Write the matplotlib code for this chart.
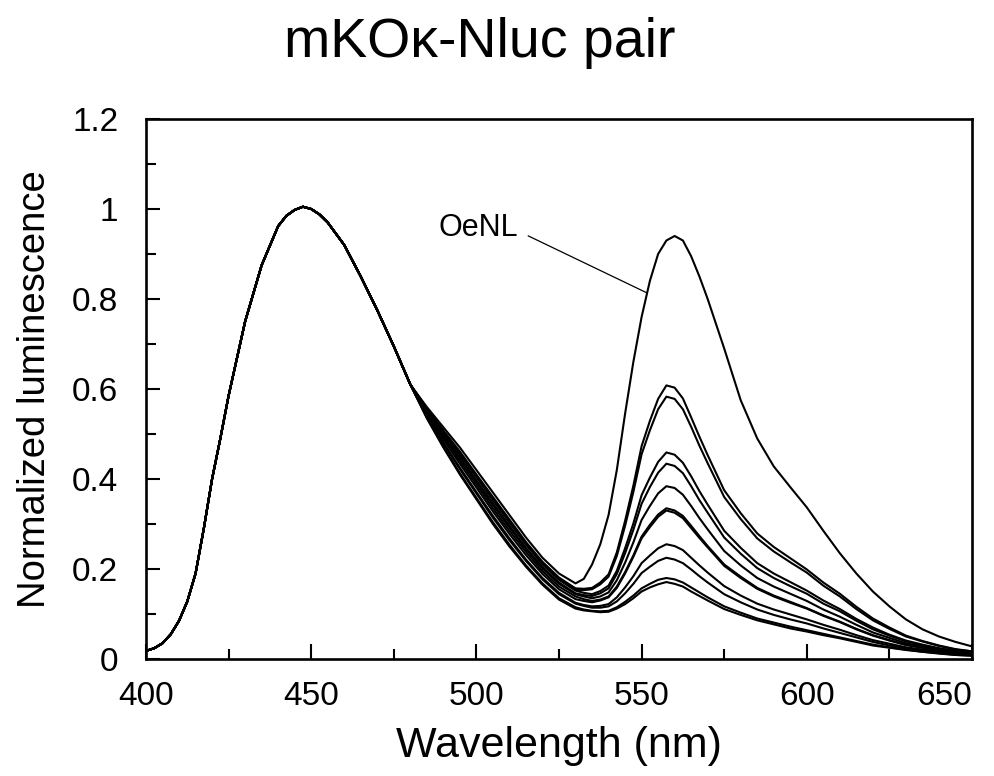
import numpy as np
import matplotlib
matplotlib.use("Agg")
import matplotlib.pyplot as plt
from matplotlib.ticker import MultipleLocator

plt.rcParams['font.family'] = ['Liberation Sans', 'DejaVu Sans']

# ---------------- data ----------------
# shared blue (Nluc) part of all spectra, 400-480 nm
wl_blue = [400, 402.5, 405, 407.5, 410, 412.5, 415, 417.5, 420, 422.5, 425,
           430, 435, 440, 442.5, 445, 447.5, 450, 452.5, 455, 460, 465, 470,
           475, 480]
donor_blue = [0.018, 0.024, 0.035, 0.055, 0.085, 0.128, 0.190, 0.290, 0.400,
              0.490, 0.585, 0.750, 0.875, 0.962, 0.985, 0.998, 1.005, 1.000,
              0.988, 0.970, 0.920, 0.850, 0.775, 0.695, 0.610]

# 485-650 nm part of each spectrum
wl_red = [485, 490, 495, 500, 505, 510, 515, 520, 525, 530, 532.5, 535, 537.5,
          540, 542.5, 545, 547.5, 550, 552.5, 555, 557.5, 560, 562.5, 565,
          567.5, 570, 575, 580, 585, 590, 595, 600, 605, 610, 615, 620, 625,
          630, 635, 640, 645, 650]

oenl = [0.560, 0.515, 0.470, 0.420, 0.370, 0.320, 0.270, 0.225, 0.190, 0.168,
        0.178, 0.210, 0.255, 0.320, 0.420, 0.545, 0.660, 0.760, 0.840, 0.900,
        0.930, 0.940, 0.930, 0.895, 0.850, 0.800, 0.690, 0.575, 0.490, 0.428,
        0.382, 0.337, 0.285, 0.235, 0.190, 0.150, 0.117, 0.088, 0.066, 0.050,
        0.038, 0.028]
pair_061 = [0.556, 0.508, 0.461, 0.410, 0.360, 0.310, 0.260, 0.216, 0.181, 0.157,
            0.156, 0.158, 0.170, 0.188, 0.237, 0.307, 0.385, 0.473, 0.529, 0.578,
            0.608, 0.603, 0.579, 0.537, 0.494, 0.453, 0.375, 0.324, 0.279, 0.249,
            0.224, 0.199, 0.170, 0.145, 0.116, 0.090, 0.070, 0.052, 0.040, 0.030,
            0.022, 0.017]
pair_058 = [0.555, 0.506, 0.458, 0.407, 0.356, 0.306, 0.257, 0.213, 0.178, 0.154,
            0.153, 0.155, 0.166, 0.183, 0.229, 0.296, 0.371, 0.455, 0.508, 0.555,
            0.583, 0.578, 0.555, 0.516, 0.474, 0.435, 0.360, 0.311, 0.268, 0.239,
            0.215, 0.192, 0.163, 0.139, 0.111, 0.086, 0.067, 0.050, 0.039, 0.029,
            0.021, 0.017]
pair_046 = [0.554, 0.504, 0.455, 0.404, 0.353, 0.303, 0.254, 0.210, 0.176, 0.152,
            0.147, 0.144, 0.151, 0.163, 0.196, 0.246, 0.301, 0.364, 0.403, 0.438,
            0.459, 0.454, 0.436, 0.406, 0.373, 0.343, 0.285, 0.247, 0.213, 0.190,
            0.171, 0.152, 0.130, 0.111, 0.089, 0.070, 0.054, 0.041, 0.032, 0.024,
            0.018, 0.014]
pair_043 = [0.551, 0.499, 0.449, 0.397, 0.346, 0.296, 0.247, 0.204, 0.170, 0.146,
            0.142, 0.140, 0.146, 0.157, 0.189, 0.235, 0.287, 0.345, 0.382, 0.414,
            0.434, 0.429, 0.413, 0.384, 0.353, 0.325, 0.270, 0.234, 0.202, 0.180,
            0.162, 0.145, 0.123, 0.106, 0.085, 0.066, 0.052, 0.039, 0.030, 0.023,
            0.017, 0.013]
pair_038 = [0.550, 0.497, 0.446, 0.394, 0.342, 0.292, 0.244, 0.201, 0.167, 0.144,
            0.139, 0.135, 0.139, 0.148, 0.175, 0.214, 0.259, 0.309, 0.340, 0.368,
            0.384, 0.380, 0.365, 0.340, 0.313, 0.288, 0.240, 0.208, 0.180, 0.161,
            0.145, 0.129, 0.110, 0.094, 0.076, 0.059, 0.047, 0.035, 0.028, 0.021,
            0.015, 0.012]
pair_034a = [0.548, 0.493, 0.440, 0.388, 0.335, 0.285, 0.238, 0.195, 0.161, 0.139,
             0.133, 0.129, 0.132, 0.139, 0.161, 0.193, 0.230, 0.272, 0.298, 0.321,
             0.335, 0.330, 0.318, 0.296, 0.273, 0.251, 0.210, 0.183, 0.158, 0.141,
             0.127, 0.113, 0.097, 0.083, 0.067, 0.053, 0.042, 0.032, 0.025, 0.019,
             0.014, 0.011]
pair_034b = [0.545, 0.488, 0.434, 0.381, 0.328, 0.278, 0.231, 0.189, 0.155, 0.133,
             0.129, 0.126, 0.130, 0.137, 0.158, 0.190, 0.227, 0.268, 0.293, 0.316,
             0.330, 0.325, 0.313, 0.291, 0.269, 0.248, 0.207, 0.180, 0.156, 0.139,
             0.125, 0.112, 0.096, 0.082, 0.066, 0.052, 0.041, 0.031, 0.025, 0.019,
             0.014, 0.011]
pair_026 = [0.541, 0.481, 0.425, 0.371, 0.318, 0.268, 0.221, 0.180, 0.147, 0.125,
            0.120, 0.117, 0.118, 0.122, 0.137, 0.159, 0.184, 0.213, 0.230, 0.246,
            0.255, 0.251, 0.242, 0.225, 0.208, 0.192, 0.162, 0.141, 0.123, 0.110,
            0.099, 0.088, 0.076, 0.065, 0.053, 0.042, 0.034, 0.026, 0.021, 0.016,
            0.012, 0.009]
pair_022 = [0.540, 0.479, 0.422, 0.368, 0.314, 0.264, 0.218, 0.177, 0.144, 0.123,
            0.118, 0.114, 0.114, 0.117, 0.128, 0.146, 0.167, 0.191, 0.205, 0.218,
            0.225, 0.221, 0.213, 0.199, 0.184, 0.170, 0.144, 0.126, 0.110, 0.098,
            0.088, 0.079, 0.068, 0.058, 0.048, 0.038, 0.030, 0.024, 0.019, 0.014,
            0.011, 0.009]
pair_018 = [0.536, 0.472, 0.413, 0.358, 0.304, 0.254, 0.208, 0.168, 0.135, 0.115,
            0.110, 0.107, 0.106, 0.107, 0.115, 0.127, 0.141, 0.157, 0.167, 0.176,
            0.180, 0.177, 0.170, 0.159, 0.148, 0.137, 0.117, 0.103, 0.090, 0.081,
            0.072, 0.064, 0.056, 0.048, 0.040, 0.032, 0.026, 0.021, 0.016, 0.013,
            0.009, 0.008]
pair_017 = [0.535, 0.470, 0.410, 0.355, 0.300, 0.250, 0.205, 0.165, 0.132, 0.112,
            0.108, 0.106, 0.104, 0.105, 0.112, 0.122, 0.135, 0.150, 0.159, 0.166,
            0.171, 0.167, 0.161, 0.150, 0.140, 0.130, 0.111, 0.098, 0.086, 0.077,
            0.068, 0.061, 0.053, 0.046, 0.038, 0.030, 0.025, 0.020, 0.016, 0.012,
            0.009, 0.007]

spectra = [oenl, pair_061, pair_058, pair_046, pair_043, pair_038, pair_034a,
           pair_034b, pair_026, pair_022, pair_018, pair_017]

x_ticks = [400, 450, 500, 550, 600, 650]
x_tick_labels = ["400", "450", "500", "550", "600", "650"]
y_ticks = [0, 0.2, 0.4, 0.6, 0.8, 1.0, 1.2]
y_tick_labels = ["0", "0.2", "0.4", "0.6", "0.8", "1", "1.2"]

title = "mKO\u03ba-Nluc pair"
xlabel = "Wavelength (nm)"
ylabel = "Normalized luminescence"
label_text = "OeNL"
label_point = (551.5, 0.814)
label_pos = (500.5, 0.958)

# ---------------- plot ----------------
fig = plt.figure(figsize=(9.94, 7.76), dpi=100)
ax = fig.add_axes([146 / 994, 1 - 659 / 776, (972 - 146) / 994, (659 - 119) / 776])

wl = np.concatenate([wl_blue, wl_red])
for s in spectra:
    ax.plot(wl, np.concatenate([donor_blue, s]), color='black', lw=1.5,
            solid_joinstyle='round', solid_capstyle='round')

ax.set_xlim(400, 650)
ax.set_ylim(0, 1.2)
ax.set_xticks(x_ticks)
ax.set_xticklabels(x_tick_labels)
ax.set_yticks(y_ticks)
ax.set_yticklabels(y_tick_labels)
ax.xaxis.set_minor_locator(MultipleLocator(25))
ax.yaxis.set_minor_locator(MultipleLocator(0.1))

for sp in ax.spines.values():
    sp.set_linewidth(1.9)
ax.tick_params(which='both', direction='in', top=False, right=False, width=1.5,
               labelsize=24)
ax.tick_params(axis='x', which='major', length=10.5, pad=16)
ax.tick_params(axis='x', which='minor', length=7.5)
ax.tick_params(axis='y', which='major', length=10, pad=20)
ax.tick_params(axis='y', which='minor', length=7)

ax.get_xticklabels()[-1].set_horizontalalignment('right')

ax.set_xlabel(xlabel, fontsize=31, labelpad=10)
ax.set_ylabel(ylabel, fontsize=27.5, labelpad=14)

ax.annotate(label_text, xy=label_point, xytext=label_pos, fontsize=22,
            ha='center', va='center',
            arrowprops=dict(arrowstyle='-', lw=0.9, color='black',
                            relpos=(1.0, 0.4), shrinkA=6, shrinkB=0))

fig.text(480 / 994, 1 - 57 / 776, title, fontsize=40, ha='center', va='baseline')

fig.savefig("out.png", dpi=100)
